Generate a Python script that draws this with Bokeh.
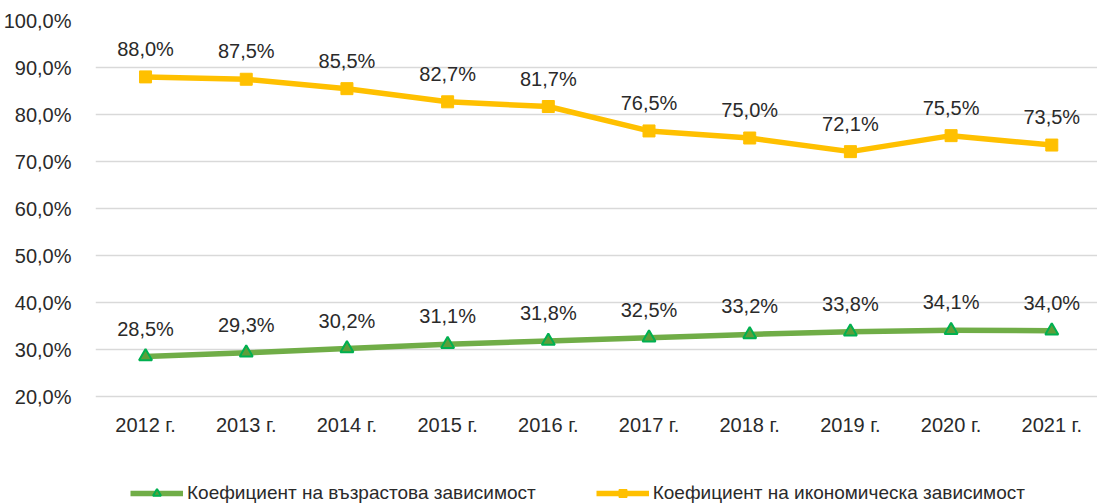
from bokeh.plotting import figure
from bokeh.models import ColumnDataSource, Legend, LegendItem, FixedTicker
from bokeh.core.properties import value
from bokeh.embed import file_html
from bokeh.resources import INLINE

years = ["2012 г.", "2013 г.", "2014 г.", "2015 г.", "2016 г.", "2017 г.", "2018 г.", "2019 г.", "2020 г.", "2021 г."]
age_dep = [28.5, 29.3, 30.2, 31.1, 31.8, 32.5, 33.2, 33.8, 34.1, 34.0]
econ_dep = [88.0, 87.5, 85.5, 82.7, 81.7, 76.5, 75.0, 72.1, 75.5, 73.5]
y_ticks = [20, 30, 40, 50, 60, 70, 80, 90, 100]
name_age = "Коефициент на възрастова зависимост"
name_econ = "Коефициент на икономическа зависимост"

FONT = "Liberation Sans Narrow, Liberation Sans"
TXT = "#2a2a2a"
FS = "20px"

def fmt(v):
    return f"{v:.1f}%".replace(".", ",")

xs = list(range(len(years)))
src_age = ColumnDataSource(dict(x=xs, y=age_dep, lab=[fmt(v) for v in age_dep]))
src_econ = ColumnDataSource(dict(x=xs, y=econ_dep, lab=[fmt(v) for v in econ_dep]))

# frame spans the whole height down to the legend; the value scale keeps 20%..100% at the same place
p = figure(width=1097, height=504, output_backend="svg", toolbar_location=None,
           x_range=(-0.497, 9.454), y_range=(20 - 108 / 4.7, 100),
           min_border_left=95, min_border_right=0, min_border_top=20, min_border_bottom=0)
p.outline_line_color = None
p.background_fill_color = "white"

# axes
p.xaxis.ticker = FixedTicker(ticks=xs)
p.xaxis.major_label_overrides = {i: y for i, y in enumerate(years)}
p.xaxis.fixed_location = 20
p.yaxis.ticker = FixedTicker(ticks=y_ticks)
p.yaxis.major_label_overrides = {t: f"{t:.1f}%".replace(".", ",") for t in y_ticks}
for ax in (p.xaxis[0], p.yaxis[0]):
    ax.axis_line_color = None
    ax.major_tick_line_color = None
    ax.minor_tick_line_color = None
    ax.major_label_text_font = FONT
    ax.major_label_text_font_size = FS
    ax.major_label_text_color = TXT
p.yaxis.major_label_standoff = 18
p.xaxis.major_label_standoff = 11

p.xgrid.grid_line_color = None
p.ygrid.grid_line_color = "#D9D9D9"
p.ygrid.grid_line_width = 1.5

# series
l_age = p.line("x", "y", source=src_age, line_color="#70AD47", line_width=5.5, line_join="round")
m_age = p.scatter("x", "y", source=src_age, marker="triangle", size=13,
                  fill_color="#5E9E3A", line_color="#00B050", line_width=2)
l_econ = p.line("x", "y", source=src_econ, line_color="#FFC000", line_width=5.5, line_join="round")
m_econ = p.scatter("x", "y", source=src_econ, marker="square", size=12,
                   fill_color="#FFC000", line_color="#FFC000")

for s in (src_age, src_econ):
    p.text("x", "y", text="lab", source=s, y_offset=-28, text_align="center", text_baseline="middle",
           text_font=value(FONT), text_font_size=FS, text_color=TXT)

legend = Legend(items=[LegendItem(label=name_age, renderers=[l_age, m_age]),
                       LegendItem(label=name_econ, renderers=[l_econ, m_econ])],
                orientation="horizontal", location=(35, 0))
legend.label_text_font = FONT
legend.label_text_font_size = "19px"
legend.label_text_color = TXT
legend.glyph_width = 53
legend.glyph_height = 20
legend.label_standoff = 4
legend.spacing = 60
legend.padding = 0
legend.margin = 0
legend.border_line_color = None
legend.background_fill_alpha = 0
p.add_layout(legend, "center")

open("out.html", "w").write(file_html(p, INLINE))
